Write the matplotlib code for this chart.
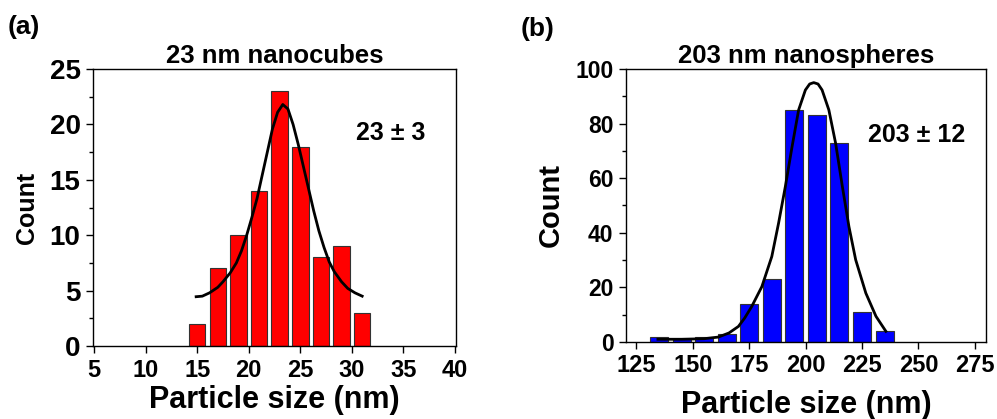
import matplotlib.pyplot as plt
from matplotlib.ticker import MultipleLocator

plt.rcParams['font.family'] = ['Liberation Sans', 'DejaVu Sans']
plt.rcParams['font.weight'] = 'bold'

# (a) 23 nm nanocubes
cube_size = [15, 17, 19, 21, 23, 25, 27, 29, 31]
cube_count = [2, 7, 10, 14, 23, 18, 8, 9, 3]
cube_fit_x = [14.9, 15.5, 16.2, 17.0, 17.5, 18.2, 18.8, 19.3, 19.8, 20.3, 20.8, 21.3,
              21.8, 22.3, 22.8, 23.3, 23.8, 24.3, 24.8, 25.3, 25.8, 26.3, 26.8, 27.3,
              27.8, 28.3, 29.0, 29.6, 30.3, 31.0]
cube_fit_y = [4.45, 4.5, 4.8, 5.3, 5.8, 6.6, 7.5, 8.6, 10.0, 11.6, 13.3, 15.4,
              17.5, 19.6, 21.1, 21.8, 21.4, 20.0, 18.2, 16.2, 14.2, 12.2, 10.4, 8.9,
              7.6, 6.7, 5.8, 5.2, 4.8, 4.5]

# (b) 203 nm nanospheres
sphere_size = [135, 145, 155, 165, 175, 185, 195, 205, 215, 225, 235]
sphere_count = [2, 1, 2, 3, 14, 23, 85, 83, 73, 11, 4]
sphere_fit_x = [134.5, 145, 155, 161.3, 166, 170.2, 173, 176.1, 180.6, 185.0, 188.0,
                191.0, 194.0, 196.9, 199.9, 201.8, 203.6, 205.5, 207.3, 210.3, 213.3,
                216.3, 219.2, 222.2, 226.7, 231.2, 235.6]
sphere_fit_y = [1.0, 1.0, 1.2, 1.8, 3.3, 5.7, 8.8, 13.0, 20.3, 31.3, 43.5,
                56.9, 71.6, 85.0, 92.3, 94.5, 95.0, 94.5, 92.3, 85.0, 72.8,
                56.9, 42.3, 30.1, 17.9, 9.4, 3.9]

fig = plt.figure(figsize=(9.97, 4.19), dpi=100)
ax1 = fig.add_axes([0.0933, 0.1742, 0.3641, 0.661])
ax2 = fig.add_axes([0.628, 0.1838, 0.361, 0.6516])


def style(ax, ytick_size):
    for s in ax.spines.values():
        s.set_linewidth(1.0)
    ax.tick_params(axis='both', direction='out', length=5, width=1, pad=4,
                   top=False, right=False)
    ax.tick_params(axis='x', labelsize=17, pad=4)
    ax.tick_params(axis='y', labelsize=ytick_size)
    ax.tick_params(axis='y', which='minor', direction='out', length=3, width=1)
    for lab in ax.get_xticklabels() + ax.get_yticklabels():
        lab.set_fontweight('bold')


ax1.bar(cube_size, cube_count, width=1.6, color='#ff0000', edgecolor='#333333', linewidth=0.8)
ax1.plot(cube_fit_x, cube_fit_y, color='black', lw=2)
ax1.set_xlim(4.9, 40.1)
ax1.set_ylim(0, 25)
ax1.xaxis.set_major_locator(MultipleLocator(5))
ax1.yaxis.set_major_locator(MultipleLocator(5))
ax1.yaxis.set_minor_locator(MultipleLocator(2.5))
style(ax1, 20)
ax1.set_title('23 nm nanocubes', fontsize=18.5, fontweight='bold', pad=4)
ax1.set_xlabel('Particle size (nm)', fontsize=22, fontweight='bold')
ax1.set_ylabel('Count', fontsize=18, fontweight='bold')
ax1.xaxis.set_label_coords(0.5, -0.14)
ax1.yaxis.set_label_coords(-0.15, 0.5)
ax1.text(33.8, 19.2, '23 ± 3', fontsize=18, fontweight='bold', ha='center', va='center')

ax2.bar(sphere_size, sphere_count, width=8, color='#0000ff', edgecolor='#333333', linewidth=0.8)
ax2.plot(sphere_fit_x, sphere_fit_y, color='black', lw=2)
ax2.set_xlim(120.4, 280)
ax2.set_ylim(0, 100)
ax2.xaxis.set_major_locator(MultipleLocator(25))
ax2.yaxis.set_major_locator(MultipleLocator(20))
ax2.yaxis.set_minor_locator(MultipleLocator(10))
style(ax2, 16.5)
ax2.set_title('203 nm nanospheres', fontsize=18.5, fontweight='bold', pad=4)
ax2.set_xlabel('Particle size (nm)', fontsize=22, fontweight='bold')
ax2.set_ylabel('Count', fontsize=21, fontweight='bold')
ax2.xaxis.set_label_coords(0.5, -0.175)
ax2.yaxis.set_label_coords(-0.17, 0.5)
ax2.text(249.4, 75.8, '203 ± 12', fontsize=18, fontweight='bold', ha='center', va='center')

fig.text(0.008, 0.965, '(a)', fontsize=19, fontweight='bold', va='top')
fig.text(0.522, 0.96, '(b)', fontsize=19, fontweight='bold', va='top')

fig.savefig('out.png', dpi=100)
